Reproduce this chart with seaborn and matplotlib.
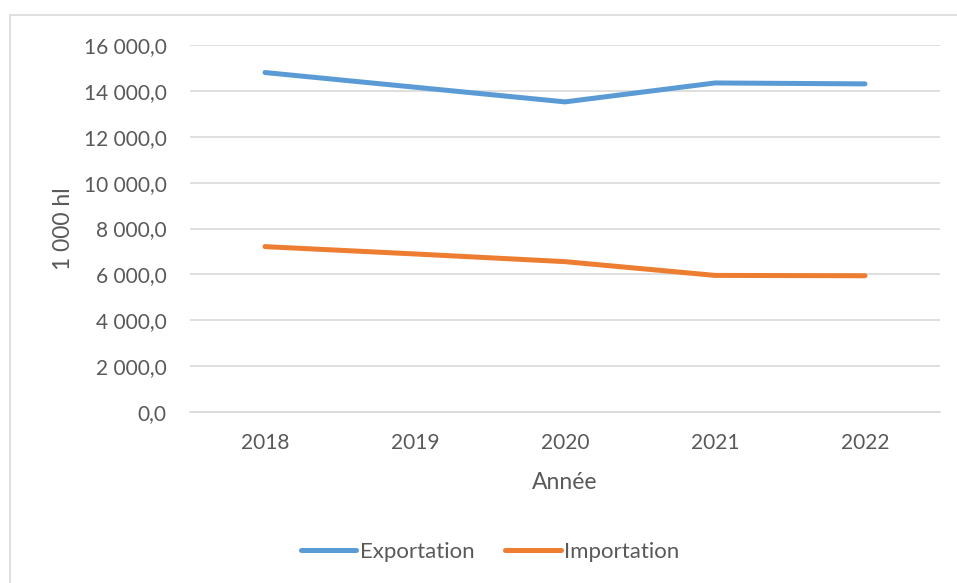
import pandas as pd
import matplotlib.pyplot as plt
import matplotlib.ticker as mticker
from matplotlib.patches import Rectangle
import seaborn as sns

# data (1 000 hl)
years = ['2018', '2019', '2020', '2021', '2022']
exportation = [14800, 14160, 13520, 14345, 14305]
importation = [7210, 6890, 6555, 5955, 5940]
series_names = ['Exportation', 'Importation']
colors = ['#5B9BD5', '#ED7D31']

df = pd.DataFrame({'Année': years * 2,
                   'Valeur': exportation + importation,
                   'Série': [series_names[0]] * len(years) + [series_names[1]] * len(years)})

sns.set_theme(style='white')
plt.rcParams['font.family'] = ['Lato', 'DejaVu Sans']
text_color = '#595959'

fig = plt.figure(figsize=(9.57, 5.83), dpi=100)
ax = fig.add_axes([190 / 957, 1 - 412 / 583, 750 / 957, 367 / 583])

sns.lineplot(data=df, x='Année', y='Valeur', hue='Série', palette=colors,
             linewidth=3.6, ax=ax, legend=False, sort=False)
for line in ax.get_lines():
    line.set_solid_capstyle('round')
    line.set_solid_joinstyle('round')

ax.set_xlim(-0.5, len(years) - 0.5)
ax.set_ylim(0, 16000)
ax.yaxis.set_major_locator(mticker.MultipleLocator(2000))
ax.yaxis.set_major_formatter(mticker.FuncFormatter(
    lambda v, p: '{:,.1f}'.format(v).replace(',', ' ').replace('.', ',')))

ax.grid(axis='y', color='#D9D9D9', linewidth=1.2)
ax.set_axisbelow(True)
for s in ['top', 'right', 'left']:
    ax.spines[s].set_visible(False)
ax.spines['bottom'].set_color('#D9D9D9')
ax.spines['bottom'].set_linewidth(1.2)
ax.tick_params(axis='both', length=0, labelsize=15, colors=text_color)
ax.tick_params(axis='y', pad=17)
ax.tick_params(axis='x', pad=15)

ax.set_xlabel('Année', fontsize=16.5, color=text_color, labelpad=14)
ax.set_ylabel('1 000 hl', fontsize=16.5, color=text_color, labelpad=7)

handles = [plt.Line2D([], [], color=c, linewidth=3.6, solid_capstyle='round') for c in colors]
fig.legend(handles, series_names, loc='center', bbox_to_anchor=(490 / 957, 1 - 552 / 583),
           ncol=2, frameon=False, fontsize=16, handlelength=2.5, handletextpad=0.15,
           columnspacing=1.4, labelcolor=text_color)

# light chart border, cut off at the right and bottom as in the reference
fig.patches.append(Rectangle((10 / 957, -0.1), 1.2, 1 - 15 / 583 + 0.1,
                             transform=fig.transFigure, fill=False,
                             edgecolor='#D9D9D9', linewidth=1.2))

fig.savefig('out.png', dpi=100)
